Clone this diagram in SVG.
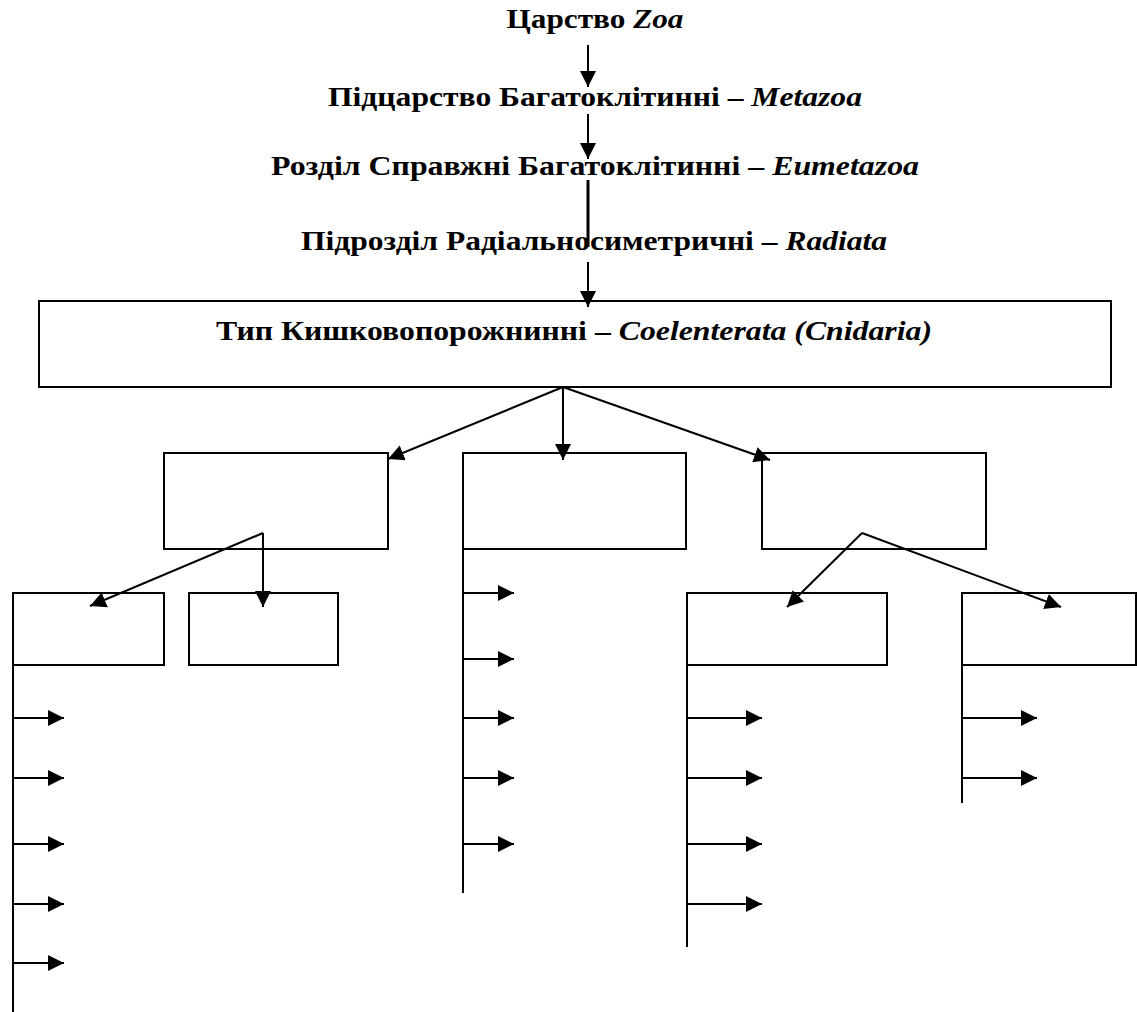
<svg xmlns="http://www.w3.org/2000/svg" width="1137" height="1012" viewBox="0 0 1137 1012">
<style>
.t{font-family:"Liberation Serif","Times New Roman",serif;font-weight:bold;font-size:27px;fill:#000;text-anchor:middle}
.i{font-style:italic}
.box{fill:#fff;stroke:#000;stroke-width:2}
.c{stroke:#000;stroke-width:2;fill:none}
.a{stroke:#000;stroke-width:2;fill:none;marker-end:url(#ah)}
</style>
<defs>
<marker id="ah" markerUnits="userSpaceOnUse" markerWidth="18" markerHeight="18" viewBox="0 0 18 18" refX="16" refY="9" orient="auto">
<path d="M0,1 L16,9 L0,17 Z" fill="#000"/>
</marker>
</defs>
<rect width="1137" height="1012" fill="#fff"/>
<g id="n-zoa"><text class="t" x="595" y="28" textLength="177" lengthAdjust="spacingAndGlyphs">Царство <tspan class="i">Zoa</tspan></text></g>
<g id="n-metazoa"><text class="t" x="595" y="106" textLength="534" lengthAdjust="spacingAndGlyphs">Підцарство Багатоклітинні – <tspan class="i">Metazoa</tspan></text></g>
<g id="n-eumetazoa"><text class="t" x="595" y="175" textLength="648" lengthAdjust="spacingAndGlyphs">Розділ Справжні Багатоклітинні – <tspan class="i">Eumetazoa</tspan></text></g>
<g id="n-radiata"><text class="t" x="594" y="250" textLength="586" lengthAdjust="spacingAndGlyphs">Підрозділ Радіальносиметричні – <tspan class="i">Radiata</tspan></text></g>
<g id="n-type"><rect class="box" x="39" y="301" width="1072" height="86"/><text class="t" x="574" y="340" textLength="716" lengthAdjust="spacingAndGlyphs">Тип Кишковопорожнинні – <tspan class="i">Coelenterata (Cnidaria)</tspan></text></g>
<g id="n-class1"><rect class="box" x="164" y="453" width="224" height="96"/></g>
<g id="n-class2"><rect class="box" x="463" y="453" width="223" height="96"/></g>
<g id="n-class3"><rect class="box" x="762" y="453" width="224" height="96"/></g>
<g id="n-sub1a"><rect class="box" x="13" y="593" width="151" height="72"/></g>
<g id="n-sub1b"><rect class="box" x="189" y="593" width="149" height="72"/></g>
<g id="n-sub3a"><rect class="box" x="687" y="593" width="200" height="72"/></g>
<g id="n-sub3b"><rect class="box" x="962" y="593" width="174" height="72"/></g>
<g id="connectors">
<line class="a" x1="588" y1="45" x2="588" y2="87"/>
<line class="a" x1="588" y1="114" x2="588" y2="159"/>
<line class="c" x1="588" y1="180" x2="588" y2="247" style="stroke-width:3"/>
<line class="a" x1="588" y1="262" x2="588" y2="307"/>
<line class="a" x1="563" y1="387" x2="388" y2="459"/>
<line class="a" x1="563" y1="387" x2="563" y2="460"/>
<line class="a" x1="563" y1="387" x2="770" y2="460"/>
<line class="a" x1="263" y1="533" x2="90" y2="606"/>
<line class="a" x1="263" y1="533" x2="263" y2="607"/>
<line class="a" x1="862" y1="533" x2="787" y2="607"/>
<line class="a" x1="862" y1="533" x2="1061" y2="607"/>
<line class="c" x1="13" y1="665" x2="13" y2="1012"/>
<line class="a" x1="13" y1="718" x2="64" y2="718"/>
<line class="a" x1="13" y1="778" x2="64" y2="778"/>
<line class="a" x1="13" y1="844" x2="64" y2="844"/>
<line class="a" x1="13" y1="904" x2="64" y2="904"/>
<line class="a" x1="13" y1="963" x2="64" y2="963"/>
<line class="c" x1="463" y1="533" x2="463" y2="893"/>
<line class="a" x1="463" y1="593" x2="514" y2="593"/>
<line class="a" x1="463" y1="659" x2="514" y2="659"/>
<line class="a" x1="463" y1="718" x2="514" y2="718"/>
<line class="a" x1="463" y1="778" x2="514" y2="778"/>
<line class="a" x1="463" y1="844" x2="514" y2="844"/>
<line class="c" x1="687" y1="665" x2="687" y2="947"/>
<line class="a" x1="687" y1="718" x2="762" y2="718"/>
<line class="a" x1="687" y1="778" x2="762" y2="778"/>
<line class="a" x1="687" y1="844" x2="762" y2="844"/>
<line class="a" x1="687" y1="904" x2="762" y2="904"/>
<line class="c" x1="962" y1="665" x2="962" y2="803"/>
<line class="a" x1="962" y1="718" x2="1037" y2="718"/>
<line class="a" x1="962" y1="778" x2="1037" y2="778"/>
</g>
</svg>
